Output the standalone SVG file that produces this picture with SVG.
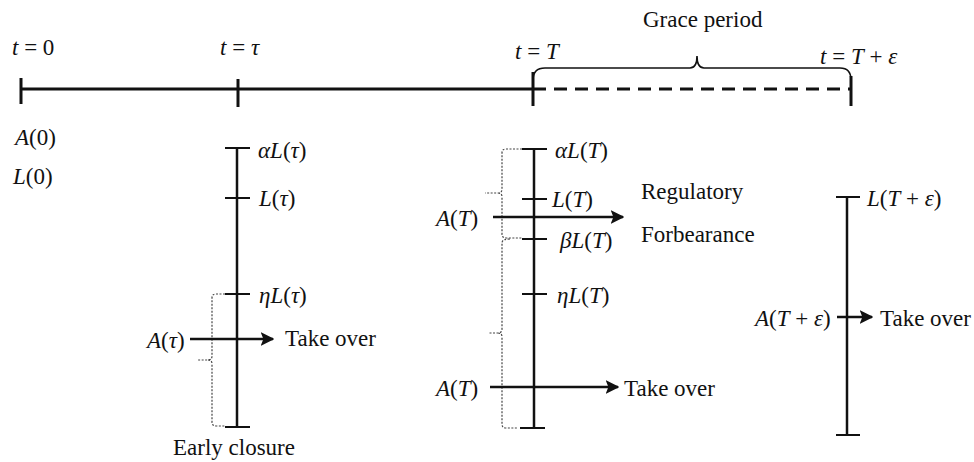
<svg xmlns="http://www.w3.org/2000/svg" width="974" height="462" viewBox="0 0 974 462">
<style>
text{font-family:"Liberation Serif","Times New Roman",Times,"Nimbus Roman","Nimbus Roman No9 L",Tinos,"DejaVu Serif","Noto Serif","FreeSerif",serif;font-size:23px;fill:#111}
.i{font-style:italic}
.ln{stroke:#111;stroke-width:2.5;fill:none}
.tk{stroke:#111;stroke-width:2;fill:none}
.ar{stroke:#111;stroke-width:2.5;fill:none;marker-end:url(#ah)}
.br{stroke:#111;stroke-width:1.6;fill:none}
.db{stroke:#444;stroke-width:1.2;fill:none;stroke-dasharray:2 1.5}
</style>
<defs>
<marker id="ah" viewBox="0 0 10 10" refX="9" refY="5" markerWidth="5.5" markerHeight="5.5" markerUnits="strokeWidth" orient="auto">
<path d="M0,0 L10,5 L0,10 L2,5 Z" fill="#111"/>
</marker>
</defs>
<g id="timeline">
<line class="ln" x1="21" y1="89" x2="533" y2="89" style="stroke-width:3"/>
<line class="ln" x1="533" y1="89" x2="851" y2="89" style="stroke-width:3;stroke-dasharray:13 8"/>
<line class="ln" x1="21" y1="78" x2="21" y2="104" style="stroke-width:3"/>
<line class="ln" x1="238" y1="79" x2="238" y2="107" style="stroke-width:3"/>
<line class="ln" x1="533" y1="72" x2="533" y2="106" style="stroke-width:3"/>
<line class="ln" x1="851" y1="76" x2="851" y2="106" style="stroke-width:3"/>
<path class="br" d="M533,80 Q533,68 545,68 L690,68 Q697,68 697,56 Q697,68 704,68 L840,68 Q851,68 851,80"/>
<text x="12" y="55"><tspan class="i">t</tspan> = 0</text>
<text x="220" y="55"><tspan class="i">t</tspan> = <tspan class="i">τ</tspan></text>
<text x="515" y="59"><tspan class="i">t</tspan> = <tspan class="i">T</tspan></text>
<text x="643" y="27">Grace period</text>
<text x="820" y="64"><tspan class="i">t</tspan> = <tspan class="i">T</tspan> + <tspan class="i">ε</tspan></text>
</g>
<g id="initial">
<text x="15" y="145"><tspan class="i">A</tspan>(0)</text>
<text x="13" y="184"><tspan class="i">L</tspan>(0)</text>
</g>
<g id="col-tau">
<line class="ln" x1="237" y1="148" x2="237" y2="427"/>
<line class="tk" x1="225" y1="148" x2="250" y2="148"/>
<line class="tk" x1="225" y1="198" x2="250" y2="198"/>
<line class="tk" x1="225" y1="294" x2="250" y2="294"/>
<line class="tk" x1="225" y1="427" x2="250" y2="427"/>
<text x="258" y="158"><tspan class="i">αL</tspan>(<tspan class="i">τ</tspan>)</text>
<text x="259" y="206"><tspan class="i">L</tspan>(<tspan class="i">τ</tspan>)</text>
<text x="259" y="303"><tspan class="i">ηL</tspan>(<tspan class="i">τ</tspan>)</text>
<text x="147" y="348"><tspan class="i">A</tspan>(<tspan class="i">τ</tspan>)</text>
<text x="285" y="346">Take over</text>
<text x="173" y="455">Early closure</text>
<path class="db" d="M225,294 L216,294 Q212,294 212,298 L212,356 Q212,360 208,360 L198,360 M208,360 Q212,360 212,364 L212,422 Q212,426 216,426 L225,426"/>
</g>
<g id="col-T">
<line class="ln" x1="534" y1="149" x2="534" y2="428"/>
<line class="tk" x1="522" y1="149" x2="547" y2="149"/>
<line class="tk" x1="522" y1="199" x2="547" y2="199"/>
<line class="tk" x1="522" y1="239" x2="547" y2="239"/>
<line class="tk" x1="522" y1="294" x2="547" y2="294"/>
<line class="tk" x1="520" y1="428" x2="545" y2="428"/>
<text x="555" y="158"><tspan class="i">αL</tspan>(<tspan class="i">T</tspan>)</text>
<text x="552" y="207"><tspan class="i">L</tspan>(<tspan class="i">T</tspan>)</text>
<text x="560" y="248"><tspan class="i">βL</tspan>(<tspan class="i">T</tspan>)</text>
<text x="557" y="303"><tspan class="i">ηL</tspan>(<tspan class="i">T</tspan>)</text>
<text x="436" y="226"><tspan class="i">A</tspan>(<tspan class="i">T</tspan>)</text>
<text x="436" y="396"><tspan class="i">A</tspan>(<tspan class="i">T</tspan>)</text>
<text x="641" y="199">Regulatory</text>
<text x="641" y="242">Forbearance</text>
<text x="624" y="396">Take over</text>
<path class="db" d="M522,149 L506,149 Q502,149 502,153 L502,189 Q502,193 498,193 L485,193 M498,193 Q502,193 502,197 L502,234 Q502,238 506,238 L522,238"/>
<path class="db" d="M510,239 Q502,239 502,243 L502,329 Q502,333 498,333 L488,333 M498,333 Q502,333 502,337 L502,424 Q502,428 506,428 L518,428"/>
</g>
<g id="col-Teps">
<line class="ln" x1="847" y1="197" x2="847" y2="435"/>
<line class="tk" x1="836" y1="197" x2="860" y2="197"/>
<line class="tk" x1="836" y1="435" x2="860" y2="435"/>
<text x="867" y="206"><tspan class="i">L</tspan>(<tspan class="i">T</tspan> + <tspan class="i">ε</tspan>)</text>
<text x="755" y="326"><tspan class="i">A</tspan>(<tspan class="i">T</tspan> + <tspan class="i">ε</tspan>)</text>
<text x="880" y="326">Take over</text>
</g>
<g id="connectors">
<line class="ar" x1="190" y1="339" x2="273" y2="339"/>
<line class="ar" x1="493" y1="217" x2="623" y2="217"/>
<line class="ar" x1="490" y1="387" x2="618" y2="387"/>
<line class="ar" x1="837" y1="317" x2="872" y2="317"/>
</g>
</svg>
